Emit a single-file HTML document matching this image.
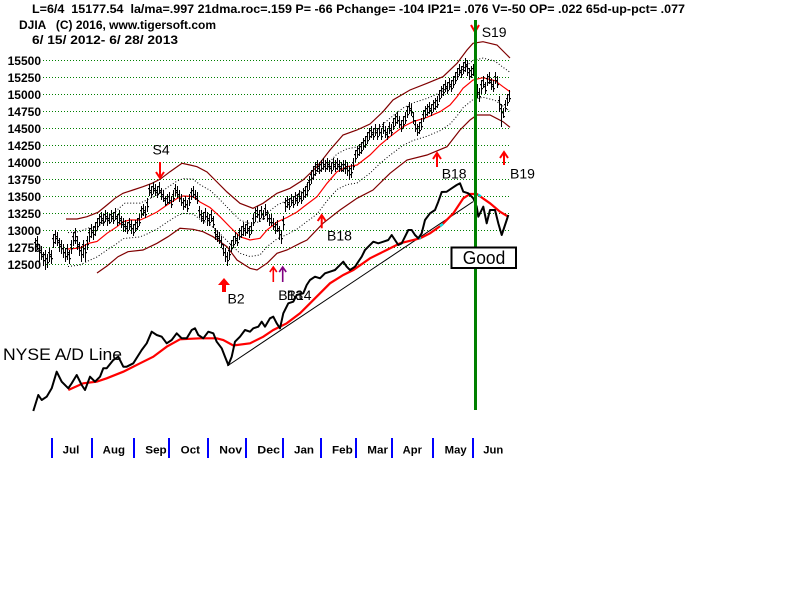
<!DOCTYPE html>
<html>
<head>
<meta charset="utf-8">
<style>
html,body{margin:0;padding:0;background:#fff;}
svg{display:block;}
text{font-family:"Liberation Sans",Arial,sans-serif;}
.b{font-weight:bold;}
.pre{white-space:pre;}
</style>
</head>
<body>
<svg width="800" height="600" viewBox="0 0 800 600" xmlns="http://www.w3.org/2000/svg" xmlns:xlink="http://www.w3.org/1999/xlink" xml:space="preserve">
<defs>
<path id="bars" d="M35 238V252M37 236V250M39 244V262M41 246V260M43 252V266M45 250V270M47 254V268M49 248V262M51 250V264M53 234V248M55 230V244M57 232V246M59 238V252M61 240V254M63 244V258M65 248V262M67 244V260M69 250V264M71 240V254M73 232V246M75 228V244M77 236V250M79 242V256M81 246V262M83 240V258M85 244V262M87 236V250M89 228V242M91 224V238M93 226V240M95 222V236M97 218V230M99 214V226M101 212V224M103 214V226M105 210V222M107 212V226M109 214V224M111 210V222M113 212V224M115 208V220M117 214V226M119 210V224M121 216V228M123 218V232M125 220V232M127 222V234M129 218V230M131 220V234M133 224V236M135 220V232M137 218V230M139 214V226M141 206V218M143 204V216M145 206V218M147 198V212M149 184V196M151 186V198M153 182V194M155 184V196M157 186V198M159 182V194M161 188V200M163 190V202M165 196V206M167 194V204M169 192V204M171 196V208M173 190V202M175 184V196M177 186V198M179 190V202M181 194V206M183 198V210M185 196V208M187 200V212M189 194V206M191 188V200M193 186V198M195 190V200M197 192V204M199 206V218M201 210V222M203 212V224M205 208V220M207 212V226M209 214V226M211 210V222M213 216V228M215 228V240M217 230V242M219 232V244M221 236V248M223 244V256M225 248V262M227 252V266M229 246V260M231 240V252M233 236V248M235 232V244M237 234V246M239 228V240M241 226V238M243 222V236M245 224V236M247 220V234M249 226V238M251 222V234M253 214V226M255 208V222M257 206V218M259 210V222M261 206V218M263 210V220M265 204V216M267 210V222M269 214V226M271 214V226M273 218V230M275 222V234M277 220V232M279 226V240M281 230V244M283 216V230M285 198V212M287 196V208M289 198V210M291 194V206M293 196V208M295 192V204M297 194V206M299 190V202M301 192V204M303 188V200M305 186V198M307 182V196M309 176V190M311 170V184M313 166V180M315 162V176M317 160V172M319 162V174M321 160V172M323 158V170M325 160V172M327 158V170M329 160V172M331 162V174M333 158V170M335 160V172M337 158V170M339 160V172M341 162V172M343 160V172M345 160V174M347 162V176M349 166V180M351 164V178M353 158V170M355 150V162M357 146V158M359 144V156M361 142V154M363 138V150M365 136V148M367 132V144M369 128V140M371 126V138M373 128V140M375 124V136M377 128V140M379 124V136M381 128V140M383 122V134M385 126V138M387 128V140M389 122V134M391 124V136M393 118V130M395 114V126M397 112V124M399 116V128M401 120V132M403 116V128M405 112V124M407 106V118M409 102V114M411 104V116M413 112V124M415 120V132M417 124V136M419 122V134M421 118V130M423 110V122M425 106V118M427 104V116M429 102V114M431 104V116M433 100V112M435 98V110M437 96V108M439 90V102M441 86V98M443 84V96M445 80V92M447 82V94M449 78V90M451 80V92M453 76V88M455 72V84M457 68V80M459 64V76M461 66V78M463 62V74M465 58V72M467 60V76M469 68V80M471 66V78M473 64V76M475 72V86M477 84V98M479 88V102M481 80V94M483 76V88M485 82V94M487 74V86M489 72V84M491 78V90M493 80V92M495 72V84M497 76V88M499 96V112M501 104V127M503 108V118M505 100V112M507 94V106M509 90V102"/>
</defs>
<rect x="0" y="0" width="800" height="600" fill="#fff"/>

<!-- header -->
<text class="b pre" x="32" y="13" font-size="12" textLength="653" lengthAdjust="spacingAndGlyphs">L=6/4  15177.54  la/ma=.997 21dma.roc=.159 P= -66 Pchange= -104 IP21= .076 V=-50 OP= .022 65d-up-pct= .077</text>
<text class="b pre" x="19" y="29" font-size="12" textLength="197" lengthAdjust="spacingAndGlyphs">DJIA   (C) 2016, www.tigersoft.com</text>
<text class="b pre" x="32" y="44" font-size="12" textLength="146" lengthAdjust="spacingAndGlyphs">6/ 15/ 2012- 6/ 28/ 2013</text>

<!-- grid lines -->
<g stroke="#008000" stroke-width="1" stroke-dasharray="1 2">
<line x1="43" y1="60.5" x2="510" y2="60.5"/>
<line x1="43" y1="77.5" x2="510" y2="77.5"/>
<line x1="43" y1="94.5" x2="510" y2="94.5"/>
<line x1="43" y1="111.5" x2="510" y2="111.5"/>
<line x1="43" y1="128.5" x2="510" y2="128.5"/>
<line x1="43" y1="145.5" x2="510" y2="145.5"/>
<line x1="43" y1="162.5" x2="510" y2="162.5"/>
<line x1="43" y1="179.5" x2="510" y2="179.5"/>
<line x1="43" y1="196.5" x2="510" y2="196.5"/>
<line x1="43" y1="213.5" x2="510" y2="213.5"/>
<line x1="43" y1="230.5" x2="510" y2="230.5"/>
<line x1="43" y1="247.5" x2="510" y2="247.5"/>
<line x1="43" y1="264.5" x2="510" y2="264.5"/>
</g>

<!-- y labels -->
<g font-size="12" text-anchor="end">
<text x="41" y="65" class="b">15500</text>
<text x="41" y="82" class="b">15250</text>
<text x="41" y="99" class="b">15000</text>
<text x="41" y="116" class="b">14750</text>
<text x="41" y="133" class="b">14500</text>
<text x="41" y="150" class="b">14250</text>
<text x="41" y="167" class="b">14000</text>
<text x="41" y="184" class="b">13750</text>
<text x="41" y="201" class="b">13500</text>
<text x="41" y="218" class="b">13250</text>
<text x="41" y="235" class="b">13000</text>
<text x="41" y="252" class="b">12750</text>
<text x="41" y="269" class="b">12500</text>
</g>

<!-- bands -->
<polyline fill="none" stroke="#800000" stroke-width="1.2" points="66,219 77,219 87,216.7 98,212.3 107,205 115,198.3 123,193.3 133,190 143,186.7 152,183.3 160,179.3 170,171.7 182,163.3 190,165 197,166.7 207,172 217,182 227,192 240,203.3 253,208.3 263,203.3 277,193.3 290,188.3 303,180 317,166.7 330,150 343,135 357,130 370,124 383,111.7 393,100 410,90 427,83.3 443,76.7 457,63.3 467,50 473,43.3 483,41.7 497,45 507,55 510,58"/>
<polyline fill="none" stroke="#800000" stroke-width="1.2" points="97,273 107,266 118,256.7 128,251.7 143,250 157,243.3 168,236.7 180,228.3 193,229.3 203,231.7 213,236.7 227,246.7 237,260 250,268.3 257,270 267,263.3 277,253.3 287,250 300,243.3 307,240 323,223.3 340,210 357,198.3 373,190 390,173.3 407,160 427,155 447,146.7 460,130 470,120 477,115 490,115 503,121.7 510,127.3"/>
<polyline fill="none" stroke="#000" stroke-width="1" stroke-dasharray="1 2" points="68,232.6 80,231.6 88,228 97,227 107,220 117,210 125,203.1 140,203.1 147,200 157,194.9 167,187.8 177,181.1 183,178.6 193,179.1 200,184.7 210,190.3 220,199.7 230,210.2 240,220.1 250,223.5 260,221.7 267,213.3 277,205.1 287,200.5 297,194.9 304,189.3 313,176 327,165 337,153.9 347,148.8 357,147 370,136.8 380,126.6 390,118.2 403,108 413,102.9 427,98.4 440,92.7 450,85.9 457,77.4 463,68.9 473,60.4 483,58.1 495,61.1 503,67.3 510,72.3"/>
<polyline fill="none" stroke="#000" stroke-width="1" stroke-dasharray="1 2" points="68,266.5 80,265 88,261 97,257 107,250 117,243.5 123,238.6 140,236.9 147,234 157,229.1 167,222.2 177,215.9 183,213.4 193,213.9 200,219.3 210,224.7 220,233.7 230,243.8 240,253.3 250,256.5 260,254.9 267,246.7 277,238.9 287,234.5 297,229.1 304,223.7 317,214.1 327,200.9 337,189.5 347,184.6 357,183 370,173.2 380,163.4 390,155.2 403,145.4 413,140.5 427,136.2 440,130.7 450,124.1 457,116 463,107.7 473,99.6 483,97.3 495,100.3 503,106.1 510,111.1"/>
<polyline fill="none" stroke="#ff0000" stroke-width="1.2" points="68,249 80,248 88,243.5 97,241.5 107,233.3 117,226.7 123,221.7 130,220 140,220 147,217 157,212 167,205 177,198.5 183,196 193,196.5 200,202 210,207.5 220,216.7 230,227 240,236.7 250,240 260,238.3 267,230 277,222 287,217.5 297,212 304,206.5 317,196.7 327,183.3 337,171.7 347,166.7 357,165 370,155 380,145 390,136.7 403,126.7 413,121.7 427,117.3 440,111.7 450,105 457,96.7 463,88.3 473,80 483,77.7 495,80.7 503,86.7 510,91.7"/>

<!-- price bars with open/close ticks -->
<use xlink:href="#bars" href="#bars" transform="translate(0.5,0)" fill="none" stroke="#000" stroke-width="1"/>
<use xlink:href="#bars" href="#bars" transform="translate(-0.5,0)" fill="none" stroke="#000" stroke-width="1" stroke-dasharray="0 4 1.3 30"/>
<use xlink:href="#bars" href="#bars" transform="translate(1.5,0)" fill="none" stroke="#000" stroke-width="1" stroke-dasharray="0 8 1.3 30"/>

<!-- A/D line -->
<text x="3" y="360" font-size="17" textLength="119" lengthAdjust="spacingAndGlyphs">NYSE A/D Line</text>
<line x1="227.3" y1="366" x2="473" y2="201.7" stroke="#000" stroke-width="1"/>
<polyline fill="none" stroke="#ff0000" stroke-width="2.2" points="68.3,390 83.3,383.3 96.7,381.7 106.7,378.3 123.3,371.7 140,363.3 153.3,356.7 166.7,346.7 180,339.3 200,338.3 216.7,338.3 223.3,340 233.3,345.5 250,343.3 263.3,336.7 273.3,330 286.7,323.3 300,313.3 310,303.3 320,293.3 330,283.3 343.3,275 353.3,270 370,258.3 386.7,250 400,243.3 420,238.3 430,233.3 441.7,225 453.3,213.3 463.3,198.3 470,194 476.7,194 490,203.3 500,211.7 508.3,216.7"/>
<g stroke="#00e0e0" stroke-width="2.2">
<line x1="418" y1="238.5" x2="421" y2="237.6"/>
<line x1="440" y1="226.2" x2="443" y2="224"/>
<line x1="478" y1="194.5" x2="481" y2="196.3"/>
</g>
<polyline fill="none" stroke="#000" stroke-width="2" stroke-linejoin="round" points="33.3,411 38.3,395 41.7,400 46.7,396.7 51.7,388.3 56.7,371.7 61.7,381.7 68.3,388.3 71.7,383.3 76.7,375 81.7,385 85,390 90,376.7 95,381.7 100,376.7 103.3,368.3 106.7,368.3 113.3,360 118.3,356.7 123.3,366.7 126.7,366.7 133.3,363.3 141.7,350 146.7,343.3 151.7,331.7 156.7,335 161.7,336.7 166.7,343.3 171.7,340 176.7,333.3 181.7,338.3 186.7,338.3 191.7,330 195,328.3 198.3,335 203.3,338.3 208.3,331.7 213.3,333.3 216.7,341.7 221.7,348.3 225,356.7 228.3,365 231.7,356.7 235,341.7 240,336.7 245,330 250,331.7 253.3,328.3 258.3,326.7 261.7,321.7 265,326.7 270,318.3 273.3,316.7 276.7,323.3 280,328.3 283.3,313.3 288.3,303.3 293.3,301.7 296.7,295 303.3,293.3 306.7,285 310,280 315,276.7 320,278.3 325,273.3 330,271.7 335,270 338.3,266.7 343.3,261.7 346.7,266.7 350,270 355,266.7 358.3,261.7 361.7,256.7 365,250 368.3,246.7 373.3,241.7 378.3,243.3 383.3,241.7 388.3,240 391.7,235 395,240 398.3,245 401.7,243.3 405,236.7 408.3,230 411.7,230 415,235 418.3,238.3 421.7,233.3 425,220 430,213.3 435,210 438.3,201.7 441.7,192 446.7,191.7 451.7,188.3 456.7,185 460,183.3 463.3,191.7 468.3,193.3 473.3,198.3 476.7,206.7 478.3,216.7 483.3,206.7 486.7,223.3 490,210 495,210 498.3,223.3 501.7,235 506.7,220 508.3,215"/>

<!-- signals -->
<g fill="none" stroke="#ff0000" stroke-width="2">
<path d="M160 162V178M156 172L160 178L164 172"/>
<path d="M321.7 228.3V215M317.7 221L321.7 215L325.7 221"/>
<path d="M437 167V153M433 159L437 153L441 159"/>
<path d="M504 165V152M500 158L504 152L508 158"/>
<path d="M475 20V32M471 25L475 32L479 25"/>
</g>
<path fill="none" stroke="#ff0000" stroke-width="1.6" d="M273.3 282V267M269.8 272L273.3 267L276.8 272"/>
<path fill="none" stroke="#800080" stroke-width="1.6" d="M282.7 282V267M279.2 272L282.7 267L286.2 272"/>
<polygon fill="#ff0000" points="218,285 224,278 230,285"/>
<rect x="222" y="285" width="4" height="7" fill="#ff0000"/>

<g font-size="14">
<text x="152.5" y="154.5">S4</text>
<text x="227.5" y="303.5">B2</text>
<text x="278.3" y="300">B13</text>
<text x="286.7" y="300">B14</text>
<text x="327" y="240.5">B18</text>
<text x="441.7" y="178.5">B18</text>
<text x="510" y="178.5">B19</text>
<text x="481.7" y="37">S19</text>
</g>

<!-- green vertical line -->
<rect x="474" y="20" width="3" height="390" fill="#008000" shape-rendering="crispEdges"/>

<!-- Good box -->
<rect x="451.5" y="247.5" width="64.5" height="20.5" fill="#fff" stroke="#000" stroke-width="2"/>
<text x="462.7" y="264" font-size="18" textLength="42.6" lengthAdjust="spacingAndGlyphs">Good</text>

<!-- month axis -->
<g fill="#0000ff" shape-rendering="crispEdges">
<rect x="51" y="438" width="2" height="20"/>
<rect x="91" y="438" width="2" height="20"/>
<rect x="133" y="438" width="2" height="20"/>
<rect x="168" y="438" width="2" height="20"/>
<rect x="207" y="438" width="2" height="20"/>
<rect x="245" y="438" width="2" height="20"/>
<rect x="282" y="438" width="2" height="20"/>
<rect x="320" y="438" width="2" height="20"/>
<rect x="355" y="438" width="2" height="20"/>
<rect x="391" y="438" width="2" height="20"/>
<rect x="432" y="438" width="2" height="20"/>
<rect x="472" y="438" width="2" height="20"/>
</g>
<g font-size="11">
<text class="b" x="62.7" y="453.5" textLength="16.6" lengthAdjust="spacingAndGlyphs">Jul</text>
<text class="b" x="102.7" y="453.5" textLength="22.3" lengthAdjust="spacingAndGlyphs">Aug</text>
<text class="b" x="145.3" y="453.5" textLength="21.4" lengthAdjust="spacingAndGlyphs">Sep</text>
<text class="b" x="180.7" y="453.5" textLength="19.3" lengthAdjust="spacingAndGlyphs">Oct</text>
<text class="b" x="219.3" y="453.5" textLength="22.7" lengthAdjust="spacingAndGlyphs">Nov</text>
<text class="b" x="257.3" y="453.5" textLength="22.7" lengthAdjust="spacingAndGlyphs">Dec</text>
<text class="b" x="294" y="453.5" textLength="20" lengthAdjust="spacingAndGlyphs">Jan</text>
<text class="b" x="332" y="453.5" textLength="20.7" lengthAdjust="spacingAndGlyphs">Feb</text>
<text class="b" x="367.3" y="453.5" textLength="20.7" lengthAdjust="spacingAndGlyphs">Mar</text>
<text class="b" x="402.7" y="453.5" textLength="19.3" lengthAdjust="spacingAndGlyphs">Apr</text>
<text class="b" x="444.7" y="453.5" textLength="22" lengthAdjust="spacingAndGlyphs">May</text>
<text class="b" x="483.3" y="453.5" textLength="20" lengthAdjust="spacingAndGlyphs">Jun</text>
</g>
</svg>
</body>
</html>
